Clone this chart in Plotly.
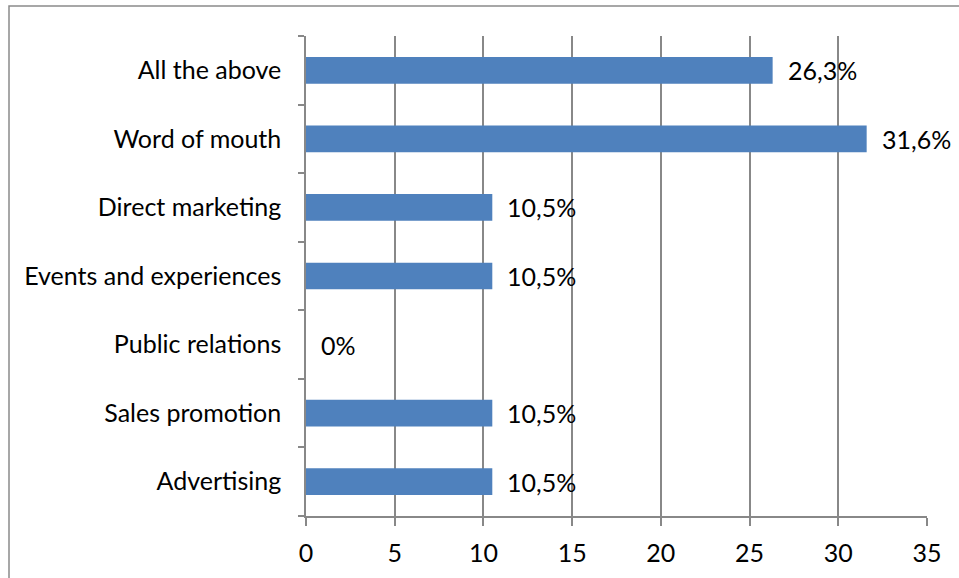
import plotly.graph_objects as go

# Share of respondents per communication tool (%)
categories = ["Advertising", "Sales promotion", "Public relations",
              "Events and experiences", "Direct marketing",
              "Word of mouth", "All the above"]
values = [10.5, 10.5, 0, 10.5, 10.5, 31.6, 26.3]
x_ticks = [0, 5, 10, 15, 20, 25, 30, 35]


def fmt(v):
    if v == 0:
        return "0%"
    return f"{v:.1f}".replace(".", ",") + "%"


W, H = 959, 578
L, R, T, B = 306, 32, 36, 62
pw, ph = W - L - R, H - T - B

FONT = dict(family="Lato, 'Open Sans', sans-serif", size=25, color="#000000")
GRID = "#888888"

fig = go.Figure()
fig.add_trace(go.Bar(
    x=values, y=categories, orientation="h",
    marker=dict(color="#4F81BD", line=dict(width=0)),
    width=0.39, hoverinfo="skip",
))

# value labels just beyond each bar end
for v, c in zip(values, categories):
    fig.add_annotation(x=v, y=c, xref="x", yref="y", text=fmt(v),
                       showarrow=False, xanchor="left", yanchor="middle",
                       xshift=13, font=FONT)

# outer chart frame (right and bottom edges run past the page)
fig.add_shape(type="rect", xref="paper", yref="paper",
              x0=(9 - L) / pw, x1=1 + 60 / pw,
              y0=-100 / ph, y1=1 + 30 / ph,
              line=dict(color="#8a8a8a", width=1.5), layer="below")

fig.update_layout(
    width=W, height=H,
    margin=dict(l=L, r=R, t=T, b=B, pad=0),
    paper_bgcolor="white", plot_bgcolor="white",
    showlegend=False, font=FONT,
    xaxis=dict(range=[0, 35], tickvals=x_ticks, ticktext=[str(t) for t in x_ticks],
               showgrid=True, gridcolor=GRID, gridwidth=1.5,
               showline=True, linecolor=GRID, linewidth=1.5,
               ticks="outside", ticklen=8, tickcolor=GRID, tickwidth=1.5,
               zeroline=False, ticklabelstandoff=6, tickfont=FONT),
    yaxis=dict(type="category", categoryorder="array", categoryarray=categories,
               showgrid=False, showline=True, linecolor=GRID, linewidth=1.5,
               ticks="outside", ticklen=6, tickcolor=GRID, tickwidth=1.5,
               tickson="boundaries", ticklabelstandoff=18, tickfont=FONT,
               range=[-0.5, len(categories) - 0.5]),
)

fig.write_html("out.html")
